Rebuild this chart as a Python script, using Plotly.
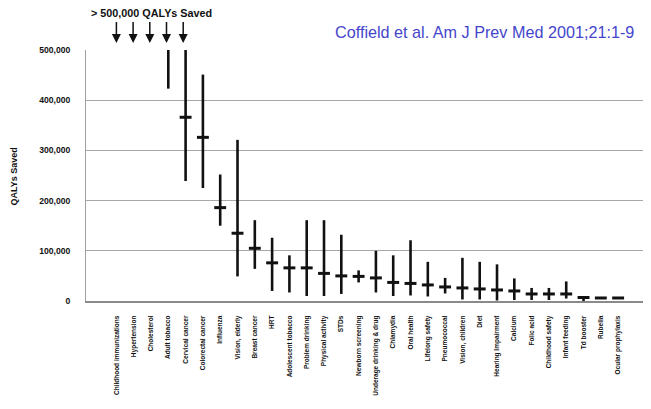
import plotly.graph_objects as go

categories = [
    "Childhood immunizations", "Hypertension", "Cholesterol", "Adult tobacco",
    "Cervical cancer", "Colorectal cancer", "Influenza", "Vision, elderly",
    "Breast cancer", "HRT", "Adolescent tobacco", "Problem drinking",
    "Physical activity", "STDs", "Newborn screening", "Underage drinking & drug",
    "Chlamydia", "Oral health", "Lifelong safety", "Pneumococcal",
    "Vision, children", "Diet", "Hearing Impairment", "Calcium", "Folic acid",
    "Childhood safety", "Infant feeding", "Td booster", "Rubella",
    "Ocular prophylaxis",
]
# point estimates (None = above the 500,000 axis limit / not shown)
mid_values = [None, None, None, None, 366000, 326000, 186000, 135000,
              105000, 76000, 66000, 66000, 55000, 50000, 49000, 46000,
              37000, 35000, 32000, 28000, 26000, 24000, 22000, 20000,
              14000, 14000, 14000, 7000, 6000, 6000]
low_values = [None, None, None, 423000, 239000, 225000, 150000, 49000,
              64000, 20000, 17000, 10000, 10000, 14000, 37000, 17000,
              10000, 11000, 9000, 15000, 3000, 3000, 1000, 2000,
              2000, 2000, 5000, 0, 6000, 6000]
# 500,000 = off the top of the scale
high_values = [None, None, None, 500000, 500000, 451000, 252000, 321000,
               161000, 126000, 91000, 161000, 161000, 132000, 61000, 100000,
               91000, 121000, 78000, 46000, 86000, 78000, 73000, 45000,
               26000, 26000, 39000, 7000, 6000, 6000]
off_scale = [0, 1, 2, 3, 4]  # categories with > 500,000 QALYs saved
y_ticks = [0, 100000, 200000, 300000, 400000, 500000]
y_ticktext = ["0", "100,000", "200,000", "300,000", "400,000", "500,000"]

xs = list(range(len(categories)))

seg_x, seg_y = [], []
for i, lo, hi in zip(xs, low_values, high_values):
    if lo is None or hi is None or hi == lo:
        continue
    seg_x += [i, i, None]
    seg_y += [lo, hi, None]

mx = [i for i, m in zip(xs, mid_values) if m is not None]
my = [m for m in mid_values if m is not None]

fig = go.Figure()
fig.add_trace(go.Scatter(x=seg_x, y=seg_y, mode="lines",
                         line=dict(color="#111111", width=2.6),
                         hoverinfo="skip", showlegend=False))
fig.add_trace(go.Scatter(x=mx, y=my, mode="markers",
                         marker=dict(symbol="line-ew", size=8.5,
                                     line=dict(width=3, color="#111111")),
                         showlegend=False))

font_family = "Liberation Sans, Arial, sans-serif"

annotations = []
for k, i in enumerate(off_scale):
    annotations.append(dict(x=i, y=1.028, xref="x", yref="paper", text=" ",
                            font=dict(size=1, color="rgba(0,0,0,0)"),
                            showarrow=True, ax=0, ay=-23, arrowhead=2,
                            arrowsize=1.2, arrowwidth=1.5, arrowcolor="#111111",
                            xshift=-0.6 * k))
annotations.append(dict(x=2, y=1.147, xref="x", yref="paper",
                        text="<b>> 500,000 QALYs Saved</b>", showarrow=False,
                        xanchor="center", yanchor="middle",
                        font=dict(family=font_family, size=10.8, color="#111111")))
annotations.append(dict(x=0.437, y=1.0717, xref="paper", yref="paper",
                        text="Coffield et al. Am J Prev Med 2001;21:1-9",
                        showarrow=False, xanchor="left", yanchor="middle",
                        font=dict(family=font_family, size=16.2, color="#4545cc")))
annotations.append(dict(x=-0.1283, y=0.494, xref="paper", yref="paper",
                        text="<b>QALYs Saved</b>", showarrow=False,
                        textangle=-90, xanchor="center", yanchor="middle",
                        font=dict(family=font_family, size=9, color="#111111")))

# page body has an 8px default margin; the figure is sized to fill the rest
fig.update_layout(
    width=643, height=401, autosize=False,
    margin=dict(l=78, r=0, t=42, b=108),
    paper_bgcolor="white", plot_bgcolor="white",
    annotations=annotations,
    xaxis=dict(range=[-1.757, 30.9], tickmode="array", tickvals=xs,
               ticktext=["<b>%s</b>" % c for c in categories], tickangle=-90,
               tickfont=dict(family=font_family, size=6.5, color="#111111"),
               showgrid=False, zeroline=False, showline=True,
               linecolor="#8a8a8a", linewidth=2, ticks="",
               ticklabelstandoff=10, automargin=False),
    yaxis=dict(range=[0, 500000], tickmode="array", tickvals=y_ticks,
               ticktext=["<b>%s</b>" % t for t in y_ticktext],
               tickfont=dict(family=font_family, size=8.6, color="#111111"),
               showgrid=True, gridcolor="#a8a8a8", gridwidth=1.2,
               zeroline=False, showline=True, linecolor="#a0a0a0",
               linewidth=1, ticks="", ticklabelstandoff=13,
               automargin=False),
)

fig.write_html("out.html")
